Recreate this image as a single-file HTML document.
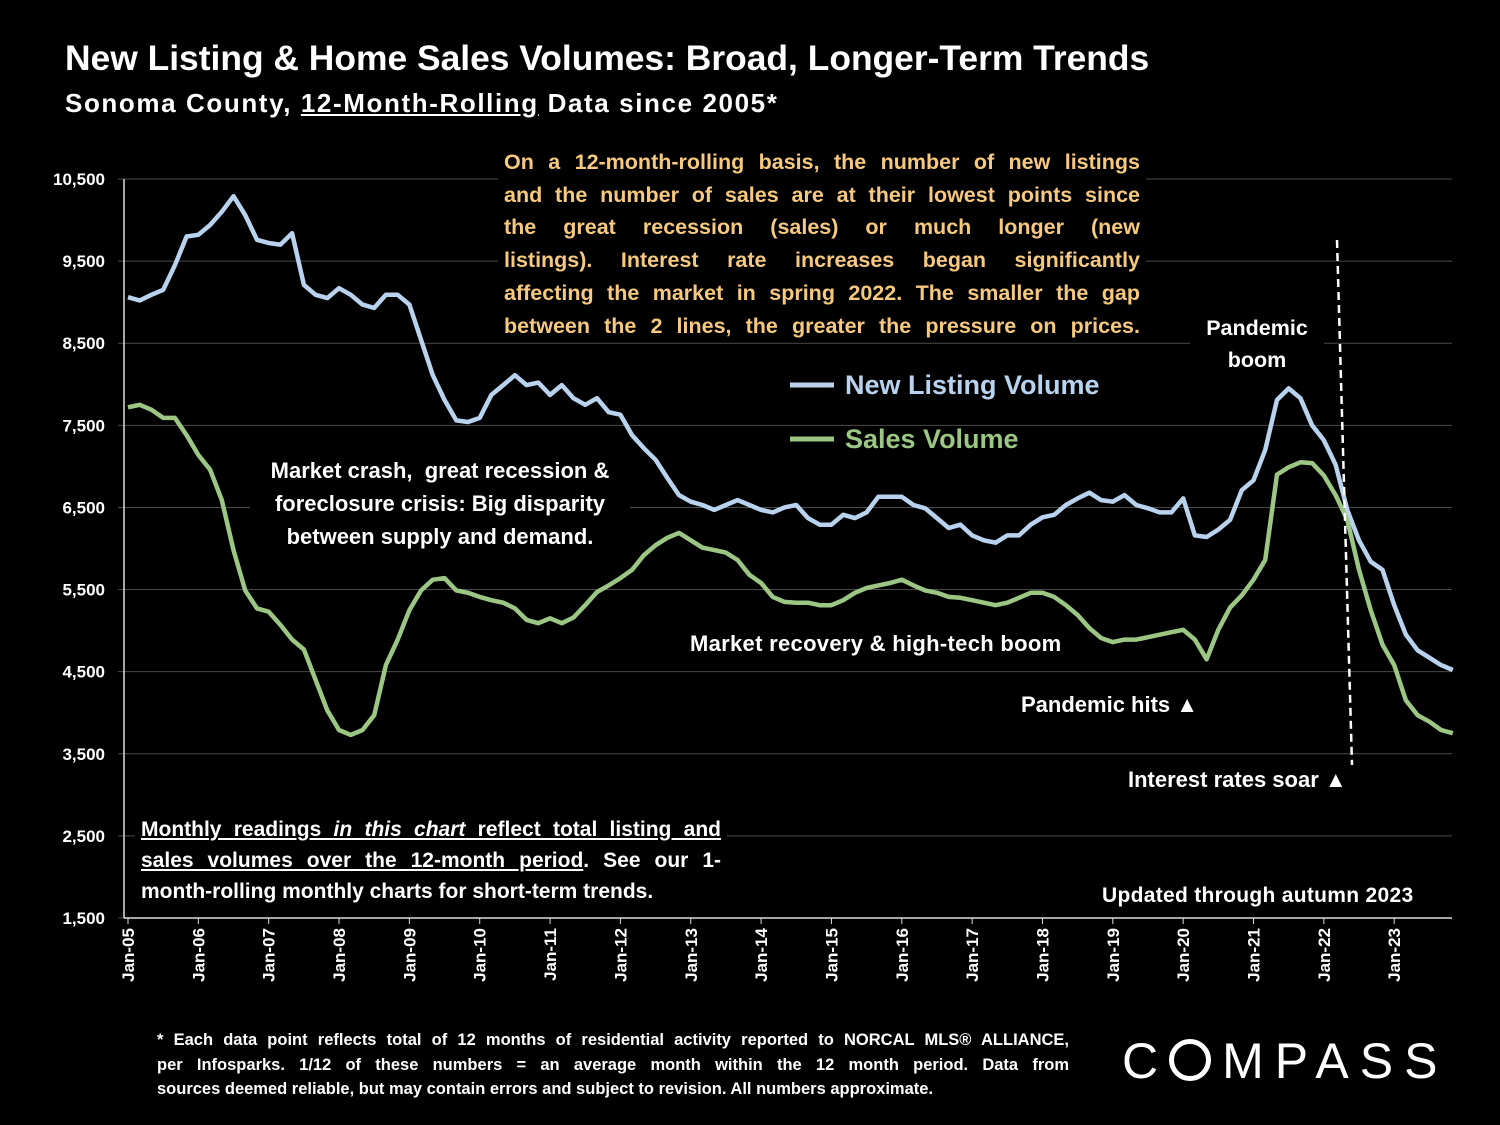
<!DOCTYPE html>
<html><head><meta charset="utf-8"><style>
body{margin:0;background:#000;}
#wrap{position:relative;width:1500px;height:1125px;background:#000;overflow:hidden;font-family:"Liberation Sans",sans-serif;font-weight:bold;color:#fff;}
.t{position:absolute;white-space:nowrap;}
.orange{color:#f7c97f;}
.j{display:block;text-align:justify;text-align-last:justify;white-space:nowrap;}
.l{display:block;text-align:left;white-space:nowrap;}
</style></head><body>
<div id="wrap">
<svg id="chart" width="1500" height="1125" style="position:absolute;left:0;top:0"></svg>
<div class="t" style="left:65px;top:38px;font-size:35.4px">New Listing &amp; Home Sales Volumes: Broad, Longer-Term Trends</div>
<div class="t" style="left:65px;top:88px;font-size:26px;letter-spacing:1.6px">Sonoma County, <u>12-Month-Rolling</u> Data since 2005*</div>
<div class="t orange" style="left:498px;top:146px;width:636px;font-size:21.5px;line-height:32.7px;background:#000;padding:0 6px;">
<span class="j">On a 12-month-rolling basis, the number of new listings</span>
<span class="j">and the number of sales are at their lowest points since</span>
<span class="j">the great recession (sales) or much longer (new</span>
<span class="j">listings). Interest rate increases began significantly</span>
<span class="j">affecting the market in spring 2022. The smaller the gap</span>
<span class="j">between the 2 lines, the greater the pressure on prices.</span>
</div>
<div class="t" style="left:1190px;top:312px;font-size:21.5px;line-height:32px;text-align:center;width:134px;background:#000">Pandemic<br>boom</div>
<div class="t" style="left:250px;top:454px;font-size:22px;line-height:33px;text-align:center;width:380px;background:#000">Market crash,&nbsp; great recession &amp;<br>foreclosure crisis: Big disparity<br>between supply and demand.</div>
<div class="t" style="left:690px;top:631px;font-size:22px;letter-spacing:0.3px;background:#000">Market recovery &amp; high-tech boom</div>
<div class="t" style="left:1021px;top:692px;font-size:22px;background:#000">Pandemic hits ▲</div>
<div class="t" style="left:1128px;top:767px;font-size:22px;background:#000">Interest rates soar ▲</div>
<div class="t" style="left:135px;top:812px;width:580px;font-size:21px;line-height:31px;background:#000;padding:2px 6px">
<span class="j"><u>Monthly readings <i>in this chart</i> reflect total listing and</u></span>
<span class="j"><u>sales volumes over the 12-month period</u>. See our 1-</span>
<span class="l">month-rolling monthly charts for short-term trends.</span>
</div>
<div class="t" style="left:1102px;top:884px;font-size:21px;letter-spacing:0.3px;background:#000">Updated through autumn 2023</div>
<div class="t" style="left:157px;top:1028px;width:912px;font-size:16.5px;line-height:24.5px">
<span class="j">* Each data point reflects total of 12 months of residential activity reported to NORCAL MLS® ALLIANCE,</span>
<span class="j">per Infosparks. 1/12 of these numbers = an average month within the 12 month period. Data from</span>
<span class="l">sources deemed reliable, but may contain errors and subject to revision. All numbers approximate.</span>
</div>
<div class="t" style="left:1122px;top:1032px;font-size:50px;font-weight:normal;letter-spacing:11px">C<span style="display:inline-block;width:42px;height:42px;border:5px solid #fff;border-radius:50%;box-sizing:border-box;vertical-align:-3px;margin-right:11px"></span>MPASS</div>
</div>
<script>
const yTicks=[10500,9500,8500,7500,6500,5500,4500,3500,2500,1500];
const yearLabels=["Jan-05","Jan-06","Jan-07","Jan-08","Jan-09","Jan-10","Jan-11","Jan-12","Jan-13","Jan-14","Jan-15","Jan-16","Jan-17","Jan-18","Jan-19","Jan-20","Jan-21","Jan-22","Jan-23"];
// values every 2 months starting Jan-05
const newListings=[9060,9020,9090,9150,9450,9800,9820,9940,10100,10290,10060,9760,9720,9700,9840,9210,9090,9050,9170,9090,8970,8930,9090,9090,8970,8540,8110,7810,7560,7540,7590,7870,7990,8110,7990,8020,7870,7990,7830,7750,7830,7660,7630,7380,7220,7080,6860,6650,6570,6530,6470,6530,6590,6530,6470,6440,6500,6530,6370,6290,6290,6410,6370,6440,6630,6630,6630,6530,6490,6370,6250,6290,6160,6100,6070,6160,6160,6290,6380,6410,6530,6610,6680,6590,6570,6650,6530,6490,6440,6440,6610,6160,6140,6230,6350,6710,6830,7200,7810,7950,7830,7500,7320,7020,6470,6100,5840,5740,5310,4950,4760,4670,4580,4520];
const salesVolume=[7720,7750,7690,7590,7590,7380,7140,6960,6590,5980,5490,5270,5230,5070,4890,4770,4400,4030,3790,3730,3790,3970,4580,4890,5250,5490,5620,5640,5490,5460,5410,5370,5340,5270,5130,5090,5150,5090,5160,5310,5470,5550,5640,5740,5920,6040,6130,6190,6100,6010,5980,5950,5860,5680,5580,5410,5350,5340,5340,5310,5310,5370,5460,5520,5550,5580,5620,5550,5490,5460,5410,5400,5370,5340,5310,5340,5400,5460,5460,5410,5310,5190,5030,4910,4860,4890,4890,4920,4950,4980,5010,4890,4650,5010,5280,5430,5620,5860,6900,6990,7050,7040,6890,6650,6350,5740,5250,4830,4580,4150,3970,3890,3790,3750];
const NS="http://www.w3.org/2000/svg";
const svg=document.getElementById('chart');
const X=m=>128+m*5.862;
const Y=v=>179+(10500-v)*0.08211;
function mk(t,a){const e=document.createElementNS(NS,t);for(const k in a)e.setAttribute(k,a[k]);svg.appendChild(e);return e;}
yTicks.forEach(v=>{
 const g=mk('line',{x1:118,x2:1452,y1:Y(v),y2:Y(v),stroke:'#4a4a4a','stroke-width':1});
 
 
 const t=mk('text',{x:105,y:Y(v)+6,'text-anchor':'end',fill:'#fff','font-size':17,'font-weight':'bold','font-family':'Liberation Sans, sans-serif'});
 t.textContent=v.toLocaleString('en-US');
 
 
});
const ax=mk('line',{x1:124,x2:124,y1:Y(10500),y2:Y(1500),stroke:'#ddd','stroke-width':1.5});


const bx=mk('line',{x1:124,x2:1452,y1:Y(1500),y2:Y(1500),stroke:'#ddd','stroke-width':1.5});


yearLabels.forEach((l,i)=>{
 const x=X(i*12);
 const tk=mk('line',{x1:x,x2:x,y1:Y(1500),y2:Y(1500)+6,stroke:'#ddd'});
 
 
 const t=mk('text',{x:0,y:0,transform:`translate(${x+6},${Y(1500)+10}) rotate(-90)`,'text-anchor':'end',fill:'#fff','font-size':17,'font-weight':'bold','font-family':'Liberation Sans, sans-serif'});
 t.textContent=l;
 
 
});
function series(arr,col,name){
 const d=arr.map((v,i)=>(i?'L':'M')+X(i*2).toFixed(1)+','+Y(v).toFixed(1)).join('');
 const p=mk('path',{d:d,fill:'none',stroke:col,'stroke-width':4.5,'stroke-linejoin':'round'});
 
 
}
series(newListings,'#b9d3ee','new-listing-line');
series(salesVolume,'#9cc683','sales-volume-line');
const dl=mk('line',{x1:1337,y1:240,x2:1352,y2:765,stroke:'#fff','stroke-width':2.5,'stroke-dasharray':'8,5'});


[['New Listing Volume','#b9d3ee',385],['Sales Volume','#9cc683',439]].forEach(([n,c,y])=>{
 const l=mk('line',{x1:790,x2:834,y1:y,y2:y,stroke:c,'stroke-width':5});
 
 
 const t=mk('text',{x:845,y:y+9,fill:c,'font-size':27,'font-weight':'bold','font-family':'Liberation Sans, sans-serif'});
 t.textContent=n;
 
 
});
</script>
</body></html>
